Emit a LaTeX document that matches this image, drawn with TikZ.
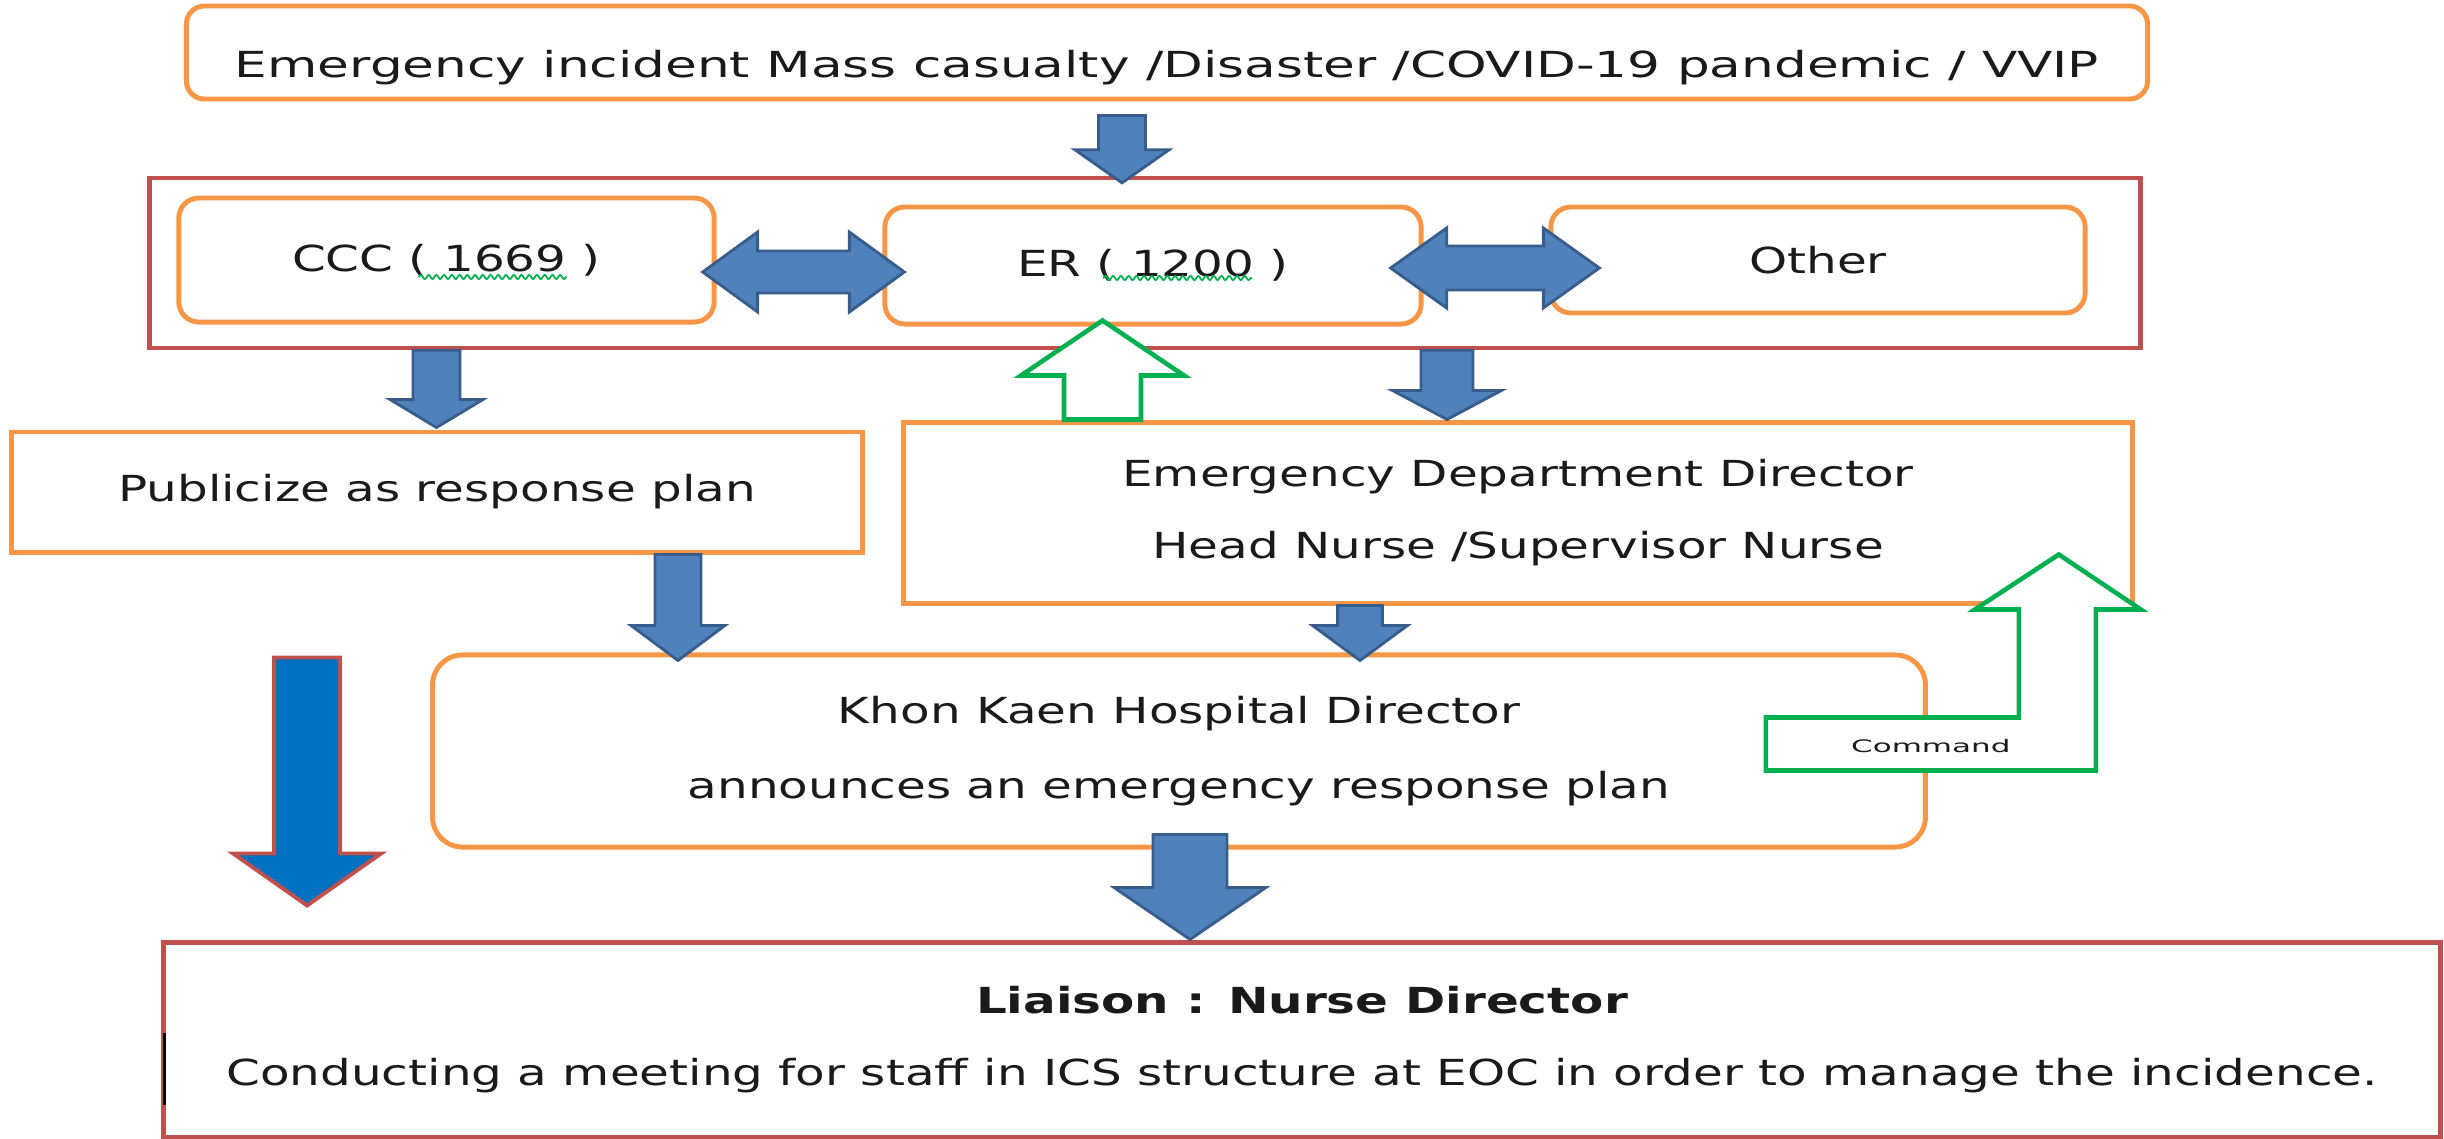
\documentclass[tikz,border=0pt]{standalone}
\usepackage{fontspec}
\usetikzlibrary{calc,decorations.pathmorphing}
\newfontfamily\boxfont{DejaVu Sans}[FakeStretch=1.35]
\newfontfamily\topfont{DejaVu Sans}[FakeStretch=1.44]
\newfontfamily\cmdfont{DejaVu Sans}[FakeStretch=1.8]
\definecolor{edgeorange}{HTML}{F79646}
\definecolor{framered}{HTML}{C0504D}
\definecolor{arrowblue}{HTML}{4F81BD}
\definecolor{arrowrim}{HTML}{385D8A}
\definecolor{cmdgreen}{HTML}{00B050}
\definecolor{bigblue}{HTML}{0070C0}
\definecolor{ink}{HTML}{1A1A1A}
% vertical block arrow: from, to, shaft half width, head half width, head length
\newcommand{\bvert}[6][barrow]{%
	\draw[#1] let \p1=#2, \p2=#3, \n1={ifthenelse(\y1>\y2,1,-1)} in
		({\x1-#4},\y1) -- ({\x1+#4},\y1) -- ({\x1+#4},{\y2+\n1*#6}) -- ({\x1+#5},{\y2+\n1*#6})
		-- (\x1,\y2) -- ({\x1-#5},{\y2+\n1*#6}) -- ({\x1-#4},{\y2+\n1*#6}) -- cycle;}
% horizontal double block arrow
\newcommand{\bboth}[6][barrow]{%
	\draw[#1] let \p1=#2, \p2=#3 in
		(\x1,\y1) -- ({\x1+#6},{\y1+#5}) -- ({\x1+#6},{\y1+#4}) -- ({\x2-#6},{\y1+#4})
		-- ({\x2-#6},{\y1+#5}) -- (\x2,\y1) -- ({\x2-#6},{\y1-#5}) -- ({\x2-#6},{\y1-#4})
		-- ({\x1+#6},{\y1-#4}) -- ({\x1+#6},{\y1-#5}) -- cycle;}
\begin{document}
\begin{tikzpicture}[x=0.01cm,y=-0.01cm,
		every node/.style={font=\boxfont\fontsize{10.2}{20.5}\selectfont,text=ink},
		rbox/.style={draw=edgeorange,line width=1.4pt,rounded corners=0.2cm,inner sep=0pt,fill=white},
		sbox/.style={draw=edgeorange,line width=1.4pt,inner sep=0pt,fill=white},
		redbox/.style={draw=framered,line width=1.2pt,inner sep=0pt},
		barrow/.style={fill=arrowblue,draw=arrowrim,line width=0.8pt},
		hollow/.style={fill=white,draw=cmdgreen,line width=1.3pt},
		bigdown/.style={fill=bigblue,draw=framered,line width=1.1pt},
		spell/.style={draw=cmdgreen,line width=0.5pt,decorate,decoration={snake,amplitude=0.6pt,segment length=2.2pt}},
		cmdtext/.style={font=\cmdfont\fontsize{4.9}{6}\selectfont,inner sep=0pt}]
	\fill[white] (0,0) rectangle (2444,1139);
	\useasboundingbox (0,0) rectangle (2444,1139);

	\node[rbox,rounded corners=0.18cm,minimum width=19.6cm,minimum height=0.93cm,text height=14pt,text depth=0pt,
		font=\topfont\fontsize{10.2}{20.5}\selectfont] (top) at (1167,52.5) {Emergency incident Mass casualty /Disaster /COVID-19 pandemic / VVIP};
	\node[redbox,minimum width=19.9cm,minimum height=1.7cm] (frame) at (1145,263) {};
	\node[rbox,minimum width=5.35cm,minimum height=1.24cm] (CCC) at (446.5,260) {CCC ( 1669 )};
	\node[rbox,minimum width=5.36cm,minimum height=1.17cm] (ER) at (1153,265.5) {ER ( 1200 )};
	\node[rbox,minimum width=5.34cm,minimum height=1.06cm] (Other) at (1818,260) {Other};
	\draw[spell] ($(CCC.center)+(-28,17)$) -- ++(148,0);
	\draw[spell] ($(ER.center)+(-50,12.5)$) -- ++(149,0);

	\node[sbox,minimum width=8.5cm,minimum height=1.2cm] (pub) at (437,492) {Publicize as response plan};
	\node[sbox,minimum width=12.28cm,minimum height=1.8cm,align=center] (edd) at (1518,513) {Emergency Department Director\\ Head Nurse /Supervisor Nurse};
	\node[rbox,rounded corners=0.3cm,minimum width=14.92cm,minimum height=1.92cm,align=center,
		font=\boxfont\fontsize{10.2}{21.5}\selectfont] (kk) at (1179,751) {Khon Kaen Hospital Director\\announces an emergency  response plan};
	\node[redbox,line width=1.4pt,minimum width=22.76cm,minimum height=1.94cm,align=center] (liaison) at (1302,1040) {\textbf{Liaison : Nurse Director}\\Conducting a meeting for staff in ICS structure at EOC in order to manage the incidence.};
	\draw[line width=0.8pt] ($(liaison.west)+(4,-7)$) -- ++(0,72);

	\bboth{($(CCC.east)+(-14,12)$)}{($(ER.west)+(22,0)$)}{0.21cm}{0.4cm}{0.55cm}
	\bboth{($(ER.east)+(-33,2.5)$)}{($(Other.west)+(51,0)$)}{0.22cm}{0.4cm}{0.56cm}

	\bvert{($(top.south)+(-45,14)$)}{($(frame.north)+(0,7)$)}{0.235cm}{0.47cm}{0.33cm}
	\bvert{($(frame.south)+(-708.5,0)$)}{($(pub.north)+(0,-2)$)}{0.235cm}{0.465cm}{0.28cm}
	\bvert{($(frame.south)+(302,0)$)}{($(edd.north)+(0,-1)$)}{0.26cm}{0.545cm}{0.29cm}
	\bvert{($(pub.south)+(241,0)$)}{($(kk.north)+(0,8)$)}{0.23cm}{0.47cm}{0.35cm}
	\bvert{($(edd.south)+(-158,0)$)}{($(kk.north)+(0,8)$)}{0.225cm}{0.475cm}{0.35cm}
	\bvert{($(kk.south)+(11,-15)$)}{($(liaison.north)+(0,-1)$)}{0.37cm}{0.76cm}{0.52cm}
	\bvert[hollow]{($(edd.north)+(-415.5,-1)$)}{($(ER.south)+(0,-6)$)}{0.385cm}{0.815cm}{0.55cm}
	\bvert[bigdown]{($(kk.north west)+(-123,5)$)}{($(liaison.north west)+(0,-35)$)}{0.33cm}{0.74cm}{0.52cm}

	\coordinate (cmdtip) at ($(edd.south east)+(-76,-51)$);
	\draw[hollow] (cmdtip) -- ++(82,55) -- ++(-45,0) -- ++(0,161) -- ++(-330,0) -- ++(0,-53)
		-- ++(253,0) -- ++(0,-108) -- ++(-44,0) -- cycle;
	\node[cmdtext] (cmd) at ($(cmdtip)+(-128,192)$) {Command};
\end{tikzpicture}
\end{document}
